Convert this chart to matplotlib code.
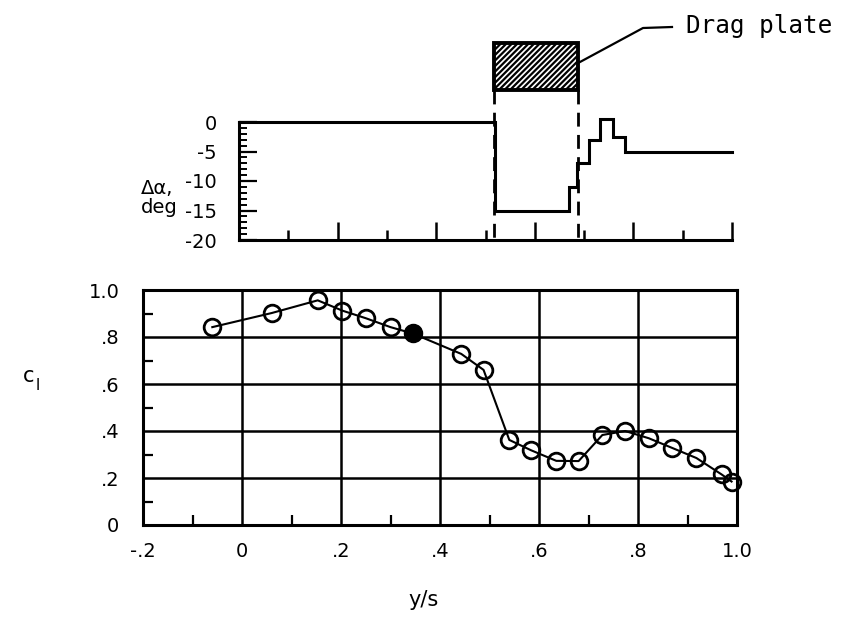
import matplotlib
matplotlib.use("Agg")
import matplotlib.pyplot as plt
from matplotlib import font_manager
from matplotlib.patches import Rectangle
from matplotlib.lines import Line2D
from matplotlib.ticker import MultipleLocator, FixedLocator

_names = {f.name for f in font_manager.fontManager.ttflist}
NARROW = 'Liberation Sans Narrow' if 'Liberation Sans Narrow' in _names else None

plt.rcParams['axes.unicode_minus'] = False
plt.rcParams['font.family'] = ([NARROW] if NARROW else []) + ['DejaVu Sans']
plt.rcParams['hatch.linewidth'] = 1.6

# ---- data: lower panel (section lift coefficient) ----
ys_pts = [-0.06, 0.06, 0.153, 0.203, 0.25, 0.30, 0.345, 0.443, 0.488, 0.54,
          0.584, 0.635, 0.68, 0.728, 0.774, 0.822, 0.869, 0.918, 0.969, 0.989]
cl_pts = [0.842, 0.902, 0.956, 0.912, 0.88, 0.842, 0.815, 0.728, 0.66, 0.362,
          0.318, 0.273, 0.272, 0.383, 0.40, 0.369, 0.328, 0.285, 0.215, 0.185]
filled_index = 6

# ---- data: upper panel (twist distribution, steps) ----
step_edges = [0.0, 0.52, 0.67, 0.686, 0.71, 0.733, 0.759, 0.782, 1.0]
step_vals = [0, -15, -11, -7, -3, 0.5, -2.5, -5]

# drag plate span
plate_span = [0.518, 0.688]

x_ticks = [-0.2, 0.0, 0.2, 0.4, 0.6, 0.8, 1.0]
x_ticklabels = ['-.2', '0', '.2', '.4', '.6', '.8', '1.0']
y_ticks = [0, 0.2, 0.4, 0.6, 0.8, 1.0]
y_ticklabels = ['0', '.2', '.4', '.6', '.8', '1.0']
da_ticks = [0, -5, -10, -15, -20]
da_ticklabels = ['0', '-5', '-10', '-15', '-20']

W, H = 843, 639
fig = plt.figure(figsize=(W / 100, H / 100), dpi=100)

def fx(px):
    return px / W

def fy(py):
    return 1 - py / H

FS = 16 if NARROW else 14

# ---------------- upper panel ----------------
ax1 = fig.add_axes([fx(239), fy(240), fx(732) - fx(239), fy(122) - fy(240)])
ax1.set_xlim(0, 1.0)
ax1.set_ylim(-20, 0)
sx = list(step_edges)
sy = list(step_vals) + [step_vals[-1]]
ax1.plot(sx, sy, drawstyle='steps-post', color='black', lw=2.2, clip_on=False,
         solid_joinstyle='miter')
for s in ['top', 'right']:
    ax1.spines[s].set_visible(False)
for s in ['left', 'bottom']:
    ax1.spines[s].set_linewidth(2.2)
ax1.xaxis.set_major_locator(FixedLocator([0.2, 0.4, 0.6, 0.8, 1.0]))
ax1.xaxis.set_minor_locator(FixedLocator([0.1, 0.3, 0.5, 0.7, 0.9]))
ax1.tick_params(axis='x', which='major', direction='in', length=13, width=1.8,
                labelbottom=False)
ax1.tick_params(axis='x', which='minor', direction='in', length=7, width=1.8)
ax1.set_yticks(da_ticks)
ax1.set_yticklabels(da_ticklabels)
ax1.yaxis.set_minor_locator(MultipleLocator(1))
ax1.tick_params(axis='y', which='major', direction='in', length=13, width=1.6,
                pad=16, labelsize=FS)
ax1.tick_params(axis='y', which='minor', direction='in', length=6, width=1.4)

fig.text(fx(141), fy(198), 'Δα,\ndeg', fontsize=FS, ha='left', va='center',
         linespacing=1.0)

# drag plate box (hatched)
ax1.add_patch(Rectangle((plate_span[0], 5.5), plate_span[1] - plate_span[0], 7.9,
                        facecolor='white', edgecolor='black', hatch='//////',
                        lw=2.8, clip_on=False))
for xp in plate_span:
    ax1.plot([xp, xp], [5.5, -20], color='black', lw=2.0,
             linestyle=(0, (5, 3)), clip_on=False)

# leader line and label
fig.add_artist(Line2D([fx(580), fx(643), fx(672)], [fy(62), fy(28), fy(27)],
                      color='black', lw=1.6, transform=fig.transFigure))
fig.text(fx(686), fy(26), 'Drag plate', family='DejaVu Sans Mono', fontsize=17.5,
         ha='left', va='center')

# ---------------- lower panel ----------------
ax2 = fig.add_axes([fx(143), fy(525), fx(737) - fx(143), fy(290) - fy(525)])
ax2.set_xlim(-0.2, 1.0)
ax2.set_ylim(0, 1.0)
ax2.set_xticks(x_ticks)
ax2.set_xticklabels(x_ticklabels)
ax2.set_yticks(y_ticks)
ax2.set_yticklabels(y_ticklabels)
ax2.xaxis.set_minor_locator(FixedLocator([-0.1, 0.1, 0.3, 0.5, 0.7, 0.9]))
ax2.yaxis.set_minor_locator(FixedLocator([0.1, 0.3, 0.5, 0.7, 0.9]))
ax2.grid(True, which='major', color='black', lw=1.8)
ax2.set_axisbelow(True)
for s in ax2.spines.values():
    s.set_linewidth(2.2)
ax2.tick_params(axis='both', which='major', length=0, labelsize=FS)
ax2.tick_params(axis='x', which='major', pad=12)
ax2.tick_params(axis='y', which='major', pad=17)
ax2.tick_params(axis='both', which='minor', direction='in', length=7, width=1.6)

ax2.plot(ys_pts, cl_pts, color='black', lw=1.5, marker='o', markersize=12,
         markerfacecolor='none', markeredgecolor='black', markeredgewidth=2.0,
         clip_on=False, zorder=3)
ax2.plot([ys_pts[filled_index]], [cl_pts[filled_index]], marker='o', markersize=12,
         color='black', clip_on=False, zorder=4, linestyle='none')

fig.text(fx(23), fy(376), 'c', fontsize=FS + 1, ha='left', va='center')
fig.text(fx(36), fy(386), 'l', fontsize=FS - 3, ha='left', va='center')
fig.text(fx(424), fy(600), 'y/s', fontsize=FS + 1, ha='center', va='center')

fig.savefig('out.png', dpi=100)
